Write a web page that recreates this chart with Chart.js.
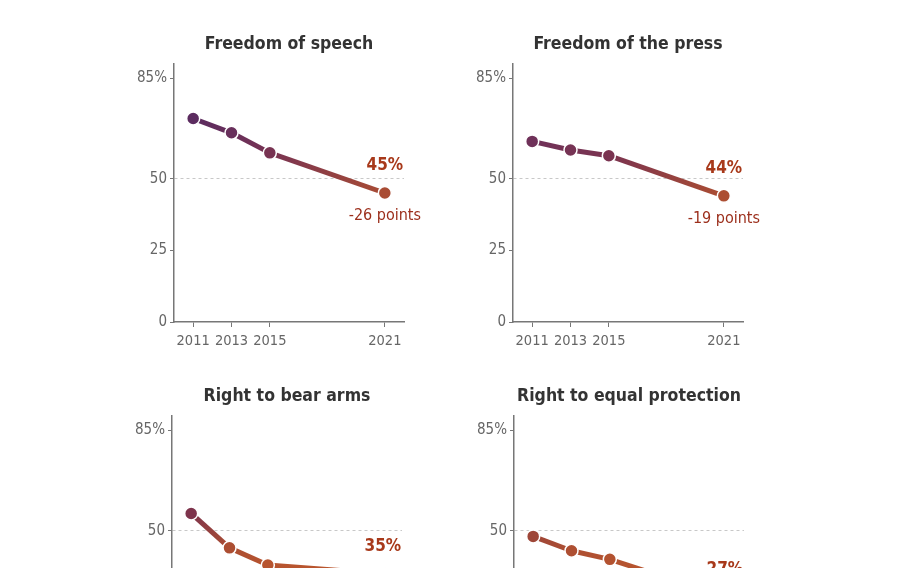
<!DOCTYPE html>
<html lang="en">
<head>
    <meta charset="UTF-8">
    <title>Knowledge of constitutional rights</title>
    <script src="https://cdn.jsdelivr.net/npm/chart.js"></script>
    <style>
        * { margin: 0; padding: 0; box-sizing: border-box; }
        body { width: 910px; height: 568px; overflow: hidden; background: #fff; position: relative; }
        .panel { position: absolute; width: 316px; height: 330px; }
    </style>
</head>
<body>
    <div class="panel" style="left:128px; top:30px"><canvas id="c0"></canvas></div>
    <div class="panel" style="left:471px; top:30px"><canvas id="c1"></canvas></div>
    <div class="panel" style="left:128px; top:382px"><canvas id="c2"></canvas></div>
    <div class="panel" style="left:471px; top:382px"><canvas id="c3"></canvas></div>

    <script>
        // data
        const years = [2011, 2013, 2015, 2021];
        const speech = [71, 66, 59, 45];
        const press = [63, 60, 58, 44];
        const bearArms = [56, 44, 38, 35];
        const equalProtection = [48, 43, 40, 27];
        const yTicks = [0, 25, 50, 85];
        const titles = ['Freedom of speech', 'Freedom of the press', 'Right to bear arms', 'Right to equal protection'];
        const series = [speech, press, bearArms, equalProtection];

        const FONT = "'DejaVu Sans Condensed', 'Liberation Sans Narrow', 'Roboto', sans-serif";
        // y-axis width per panel so the axis lines land where they do in the picture
        const axisWidth = [46, 42, 44, 43];

        // value -> colour, purple for high shares, orange for low ones
        const stops = [
            [27, [196, 92, 44]],
            [36, [186, 86, 46]],
            [44, [172, 78, 50]],
            [48, [158, 70, 56]],
            [55, [128, 52, 74]],
            [62, [114, 50, 88]],
            [72, [88, 42, 96]]
        ];
        function colorFor(v) {
            if (v <= stops[0][0]) return 'rgb(' + stops[0][1].join(',') + ')';
            for (let i = 1; i < stops.length; i++) {
                if (v <= stops[i][0]) {
                    const t = (v - stops[i - 1][0]) / (stops[i][0] - stops[i - 1][0]);
                    const c = stops[i - 1][1].map((a, k) => Math.round(a + (stops[i][1][k] - a) * t));
                    return 'rgb(' + c.join(',') + ')';
                }
            }
            return 'rgb(' + stops[stops.length - 1][1].join(',') + ')';
        }

        // end-point labels: share in 2021 and change since 2011
        const endLabels = {
            id: 'endLabels',
            afterDatasetsDraw(chart) {
                const vals = chart.data.datasets[0].data.map(d => d.y);
                const pt = chart.getDatasetMeta(0).data[vals.length - 1];
                const ctx = chart.ctx;
                ctx.save();
                ctx.textAlign = 'center';
                ctx.textBaseline = 'middle';
                ctx.fillStyle = '#a8391a';
                ctx.font = 'bold 17px ' + FONT;
                ctx.fillText(vals[vals.length - 1] + '%', pt.x, pt.y - 27);
                ctx.fillStyle = '#9c2f1c';
                ctx.font = '16px ' + FONT;
                ctx.fillText((vals[vals.length - 1] - vals[0]) + ' points', pt.x, pt.y + 23);
                ctx.restore();
            }
        };

        series.forEach((vals, i) => {
            new Chart(document.getElementById('c' + i), {
                type: 'line',
                data: {
                    datasets: [{
                        data: years.map((yr, k) => ({ x: yr, y: vals[k] })),
                        borderWidth: 5,
                        pointRadius: 6.5,
                        pointBorderWidth: 1.5,
                        pointBorderColor: '#fff',
                        pointBackgroundColor: vals.map(colorFor),
                        segment: {
                            borderColor: c => {
                                const g = c.chart.ctx.createLinearGradient(c.p0.x, c.p0.y, c.p1.x, c.p1.y);
                                g.addColorStop(0, colorFor(vals[c.p0DataIndex]));
                                g.addColorStop(1, colorFor(vals[c.p1DataIndex]));
                                return g;
                            }
                        }
                    }]
                },
                options: {
                    responsive: true,
                    maintainAspectRatio: false,
                    animation: false,
                    layout: { padding: { left: 0, right: 316 - axisWidth[i] - 230, top: 0, bottom: 0 } },
                    plugins: {
                        legend: { display: false },
                        tooltip: { enabled: false },
                        title: {
                            display: true,
                            text: titles[i],
                            fullSize: false,
                            color: '#333',
                            font: { family: FONT, size: 17.5, weight: 'bold' },
                            padding: { top: 4, bottom: 9 }
                        }
                    },
                    scales: {
                        x: {
                            type: 'linear',
                            min: 2010,
                            max: 2022,
                            afterBuildTicks: s => { s.ticks = years.map(v => ({ value: v })); },
                            afterFit: s => { s.height = 38; },
                            border: { color: '#777', width: 1.5 },
                            grid: { drawOnChartArea: false, tickLength: 5, tickColor: '#777' },
                            ticks: {
                                color: '#666',
                                padding: 6,
                                maxRotation: 0,
                                autoSkip: false,
                                font: { family: FONT, size: 14.5 },
                                callback: v => String(v)
                            }
                        },
                        y: {
                            min: 0,
                            max: 90,
                            afterBuildTicks: s => { s.ticks = yTicks.map(v => ({ value: v })); },
                            afterFit: s => { s.width = axisWidth[i]; },
                            border: { color: '#777', width: 1.5, dash: [3, 3] },
                            grid: {
                                color: c => c.tick && c.tick.value === 50 ? '#c8c8c8' : 'rgba(0,0,0,0)',
                                tickColor: '#777',
                                tickLength: 4,
                                lineWidth: 1
                            },
                            ticks: {
                                color: '#666',
                                padding: 3,
                                font: { family: FONT, size: 15 },
                                callback: v => v === 85 ? v + '%' : String(v)
                            }
                        }
                    }
                },
                plugins: [endLabels]
            });
        });
    </script>
</body>
</html>
